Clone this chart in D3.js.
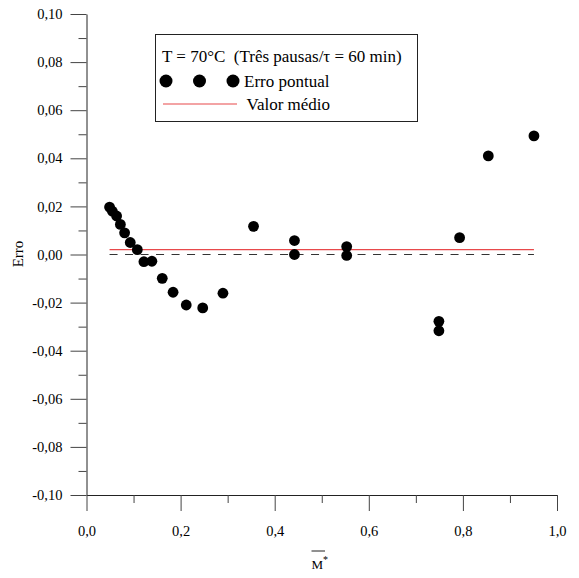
<!DOCTYPE html>
<html><head><meta charset="utf-8">
<script src="https://cdn.jsdelivr.net/npm/d3@7"></script>
<style>body{margin:0;background:#fff}svg{display:block}text{font-family:"Liberation Serif","Times New Roman",serif;fill:#000}</style>
</head><body><svg id="c" width="579" height="578"></svg>
<script>
const xVals = [0.049,0.055,0.064,0.072,0.081,0.093,0.108,0.122,0.139,0.161,0.184,0.212,0.247,0.290,0.355,0.442,0.442,0.553,0.553,0.749,0.749,0.793,0.854,0.951];
const yVals = [0.0197,0.0180,0.0160,0.0125,0.0090,0.0050,0.0020,-0.0030,-0.0028,-0.0099,-0.0157,-0.0210,-0.0222,-0.0161,0.0117,0.0058,0.0000,0.0033,-0.0004,-0.0278,-0.0317,0.0070,0.0410,0.0493];
const meanValue = 0.002;
const lineRange = [0.049, 0.951];
const xTicks = [0,0.2,0.4,0.6,0.8,1.0];
const xMinor = [0.1,0.3,0.5,0.7,0.9];
const yTicks = [-0.10,-0.08,-0.06,-0.04,-0.02,0,0.02,0.04,0.06,0.08,0.10];
const yMinor = [-0.09,-0.07,-0.05,-0.03,-0.01,0.01,0.03,0.05,0.07,0.09];
const legendTitle = "T = 70°C  (Três pausas/τ = 60 min)";
const legendPoint = "Erro pontual";
const legendLine = "Valor médio";

const FONT = "'Liberation Serif','Times New Roman',serif";
const svg = d3.select("#c");
const x = d3.scaleLinear().domain([0,1]).range([86.5,557]);
const y = d3.scaleLinear().domain([-0.1,0.1]).range([495,14]);
const fmtX = d => d.toFixed(1).replace(".", ",");
const fmtY = d => d.toFixed(2).replace(".", ",").replace("-0,00","0,00");

const gy = svg.append("g").attr("transform","translate(86.5,0)")
  .call(d3.axisLeft(y).tickValues(yTicks).tickFormat(fmtY).tickSize(16).tickPadding(8).tickSizeOuter(0));
const gym = svg.append("g").attr("transform","translate(86.5,0)")
  .call(d3.axisLeft(y).tickValues(yMinor).tickFormat("").tickSize(8));
gym.select(".domain").remove();
const gx = svg.append("g").attr("transform","translate(0,495)")
  .call(d3.axisBottom(x).tickValues(xTicks).tickFormat(fmtX).tickSize(16).tickPadding(15).tickSizeOuter(0));
const gxm = svg.append("g").attr("transform","translate(0,495)")
  .call(d3.axisBottom(x).tickValues(xMinor).tickFormat("").tickSize(8));
gxm.select(".domain").remove();
svg.selectAll("g").attr("font-family", FONT).attr("font-size", 14.5);
svg.selectAll(".domain").attr("stroke","#222");
svg.selectAll(".tick line").attr("stroke","#444").attr("stroke-width",1);
svg.selectAll(".tick text").attr("fill","#000");

// zero dashed line
svg.append("line").attr("x1",x(lineRange[0])).attr("x2",x(lineRange[1]))
  .attr("y1",y(0)).attr("y2",y(0)).attr("stroke","#333").attr("stroke-width",1)
  .attr("stroke-dasharray","8,7.5");
// mean line
svg.append("line").attr("x1",x(lineRange[0])).attr("x2",x(lineRange[1]))
  .attr("y1",y(meanValue)).attr("y2",y(meanValue)).attr("stroke","#e8494b").attr("stroke-width",1.2);

// points
svg.append("g").selectAll("circle").data(xVals).join("circle")
  .attr("cx",(d)=>x(d)).attr("cy",(d,i)=>y(yVals[i])).attr("r",5.4).attr("fill","#000");

// axis titles
svg.append("text").attr("transform","translate(23,254) rotate(-90)").attr("text-anchor","middle")
  .style("font-size","15px").text("Erro");
svg.append("line").attr("x1",311.5).attr("x2",325).attr("y1",551).attr("y2",551).attr("stroke","#222");
const t = svg.append("text").attr("x",311.5).attr("y",568.5).style("font-size","13px");
t.append("tspan").text("M");
t.append("tspan").attr("dy",-6).style("font-size","10px").text("*");

// legend
svg.append("rect").attr("x",155.5).attr("y",34.5).attr("width",262).attr("height",87)
  .attr("fill","#fff").attr("stroke","#222");
svg.append("text").attr("x",162).attr("y",62).style("font-size","17px").attr("xml:space","preserve").text(legendTitle);
[166,199.5,233].forEach(cx=>svg.append("circle").attr("cx",cx).attr("cy",81).attr("r",6.5).attr("fill","#000"));
svg.append("text").attr("x",244).attr("y",87).style("font-size","17px").text(legendPoint);
svg.append("line").attr("x1",163).attr("x2",237).attr("y1",104).attr("y2",104).attr("stroke","#e8494b").attr("stroke-width",1.2);
svg.append("text").attr("x",246.5).attr("y",110).style("font-size","17px").text(legendLine);
</script></body></html>
